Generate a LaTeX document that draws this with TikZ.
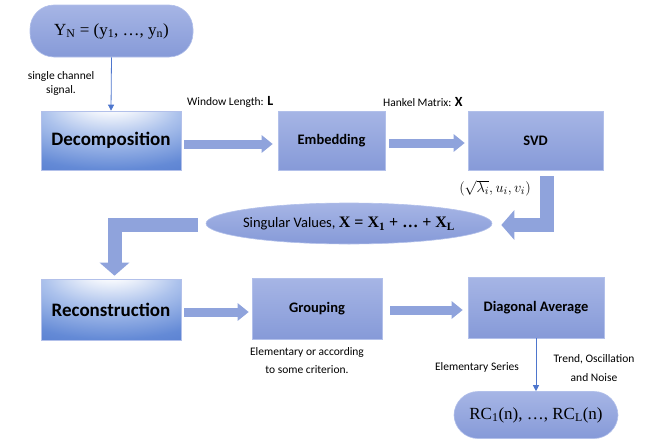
\documentclass[tikz,border=0pt]{standalone}
\usepackage{fontspec}
\setmainfont{Carlito}
\newfontfamily\serf{Liberation Serif}
\usetikzlibrary{arrows.meta,shapes.geometric,calc}
\definecolor{boxA}{RGB}{166,181,229}
\definecolor{boxB}{RGB}{134,154,216}
\definecolor{boxline}{RGB}{178,192,234}
\definecolor{arr}{RGB}{143,163,220}
\definecolor{thinc}{RGB}{78,118,205}
\definecolor{hlA}{RGB}{172,194,236}
\definecolor{hlB}{RGB}{100,138,214}
\definecolor{hlC}{RGB}{62,102,196}
\pgfdeclareradialshading{hilite}{\pgfpoint{0bp}{35bp}}{color(0bp)=(white); color(6bp)=(white); color(24bp)=(hlA); color(44bp)=(hlB); color(72bp)=(hlC); color(100bp)=(hlC)}
\tikzset{
  mainbox/.style={draw=boxline, line width=0.6pt, shade, shading=hilite, minimum width=140pt, minimum height=59pt, inner sep=0pt, font=\fontsize{19}{22}\selectfont\bfseries},
  procbox/.style={draw=boxline, line width=0.6pt, top color=boxA, bottom color=boxB, minimum height=59pt, inner sep=0pt, font=\fontsize{14.5}{17}\selectfont\bfseries},
  pill/.style={draw=boxline, line width=0.6pt, top color=boxA, bottom color=boxB, rounded corners=24pt, inner sep=0pt, font=\fontsize{17}{19}\selectfont\serf},
  lbl/.style={align=center, inner sep=0pt, font=\fontsize{11.5}{13.5}\selectfont},
  thinarrow/.style={draw=thinc, line width=0.8pt, -{Triangle[length=6pt,width=6pt]}},
  sarrow/.style={draw=arr, line width=9pt, -{Triangle[length=11pt 0 1,width=17pt 0 1]}},
  barrow/.style={draw=arr, line width=14pt, line join=miter, -{Triangle[length=13pt 0 1,width=29pt 0 1]}},
}
\begin{document}
\begin{tikzpicture}[x=1pt,y=-1pt]
\useasboundingbox (0,0) rectangle (651,439);
% nodes
\node[pill, minimum width=163pt, minimum height=52pt] (yn) at (111.5,31) {Y\textsubscript{N} = (y\textsubscript{1}, …, y\textsubscript{n})};
\node[mainbox] (decomp) at (111,140.5) {Decomposition};
\node[procbox, minimum width=107pt] (embed) at (331.5,140.5) {Embedding};
\node[procbox, minimum width=135pt] (svd) at (535.5,140.5) {SVD};
\node[draw=boxline, line width=0.6pt, top color=boxA, bottom color=boxB, ellipse, minimum width=286pt, minimum height=41pt, inner sep=0pt, inner xsep=-5pt, font=\fontsize{14.5}{17}\selectfont] (sing) at (349,223.5) {Singular Values, {\serf\bfseries\fontsize{16}{17}\selectfont X = X\textsubscript{1} + … + X\textsubscript{L}}};
\node[mainbox, minimum height=61pt] (recon) at (111,309.5) {Reconstruction};
\node[procbox, minimum width=130pt, minimum height=61pt] (group) at (317,308.5) {Grouping};
\node[procbox, minimum width=136pt, minimum height=61pt] (diag) at (536,307.5) {Diagonal Average};
\node[pill, minimum width=164pt, minimum height=47pt] (rc) at (536,415) {RC\textsubscript{1}(n), …, RC\textsubscript{L}(n)};
% labels
\node[lbl] (sc) at (61,83.5) {single channel\\signal.};
\node[lbl, anchor=west] (wl) at (187,102) {Window Length: {\fontsize{14}{14}\selectfont\bfseries L}};
\node[lbl, anchor=west] (hm) at (383,102) {Hankel Matrix: {\fontsize{14}{14}\selectfont\bfseries X}};
\node[lbl, font=\fontsize{15}{17}\selectfont] (eig) at (495,188) {$(\sqrt{\lambda_i},u_i,v_i)$};
\node[lbl, font=\fontsize{11.5}{18}\selectfont] (crit) at (307,361) {Elementary or according\\to some criterion.};
\node[lbl] (es) at (477,367) {Elementary Series};
\node[lbl, font=\fontsize{11.5}{19}\selectfont] (ton) at (594,368.5) {Trend, Oscillation\\and Noise};
% connectors
\draw[thinarrow] (yn.south) -- (decomp.north);
\draw[thinarrow] (diag.south) -- (rc.north);
\draw[sarrow] ($(decomp.east)+(3,3.5)$) -- ($(decomp.east -| embed.west)+(-5,3.5)$);
\draw[sarrow] ($(embed.east)+(4,2.5)$) -- ($(embed.east -| svd.west)+(-3,2.5)$);
\draw[sarrow] ($(recon.east)+(3,2.5)$) -- ($(recon.east -| group.west)+(-3,2.5)$);
\draw[sarrow] ($(group.east)+(8,1.5)$) -- ($(group.east -| diag.west)+(-5,1.5)$);
\draw[barrow] ($(svd.south)+(11,6)$) |- ($(sing.east)+(9,1.5)$);
\draw[barrow] ($(sing.west)+(-8,1.5)$) -| ($(recon.north)+(3.5,-3)$);
\end{tikzpicture}
\end{document}
